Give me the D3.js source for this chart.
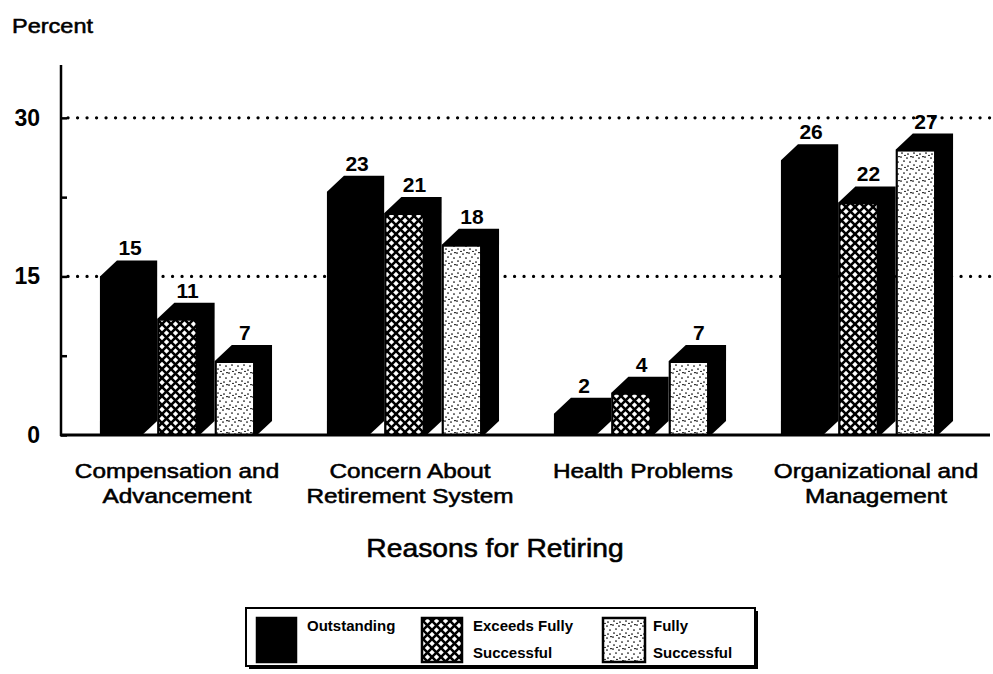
<!DOCTYPE html>
<html>
<head>
<meta charset="utf-8">
<script src="https://cdn.jsdelivr.net/npm/d3@7"></script>
<style>
  html, body { margin: 0; padding: 0; background: #fff; }
  svg { display: block; }
  text { font-family: "Liberation Sans", Arial, Helvetica, sans-serif; fill: #000; }
  .heavy { stroke: #000; stroke-width: 0.55px; }
</style>
</head>
<body>
<svg id="chart" width="993" height="674"></svg>
<script>
// ---- data ----
const categories = ["Compensation and\nAdvancement", "Concern About\nRetirement System", "Health Problems", "Organizational and\nManagement"];
const seriesNames = ["Outstanding", "Exceeds Fully Successful", "Fully Successful"];
const outstanding = [15, 23, 2, 26];
const exceedsFully = [11, 21, 4, 22];
const fullySuccessful = [7, 18, 7, 27];
const tickValues = [0, 7.5, 15, 22.5, 30];
const tickLabels = [0, 15, 30];
const gridValues = [15, 30];
const yLabel = "Percent";
const xTitle = "Reasons for Retiring";
const legendLines = [["Outstanding"], ["Exceeds Fully", "Successful"], ["Fully", "Successful"]];

const seriesValues = [outstanding, exceedsFully, fullySuccessful];

const svg = d3.select("#chart");
const defs = svg.append("defs");

// patterns
const hatch = defs.append("pattern").attr("id", "hatch")
  .attr("patternUnits", "userSpaceOnUse").attr("width", 9).attr("height", 9);
hatch.append("rect").attr("width", 9).attr("height", 9).attr("fill", "#fff");
hatch.append("path").attr("d", "M-2,-2 L11,11 M-2,11 L11,-2")
  .attr("stroke", "#000").attr("stroke-width", 2.6).attr("fill", "none");

const stip = defs.append("pattern").attr("id", "stipple")
  .attr("patternUnits", "userSpaceOnUse").attr("width", 12).attr("height", 12);
stip.append("rect").attr("width", 12).attr("height", 12).attr("fill", "#fff");
[[1,1],[7,2],[4,5],[10,6],[2,9],[8,10],[5,11.5],[11,0.5]].forEach(p => {
  stip.append("circle").attr("cx", p[0]).attr("cy", p[1]).attr("r", 0.85).attr("fill", "#000");
});

const fills = ["#000", "url(#hatch)", "url(#stipple)"];

// scales
const y = d3.scaleLinear().domain([0, 35]).range([435, 65]);
const xg = d3.scaleBand().domain(categories).range([72.5, 980.5])
  .paddingInner(0.242).paddingOuter(0.121);
const dx = 17, dy = 16;
const xs = d3.scaleBand().domain(seriesNames).range([0, xg.bandwidth() - dx])
  .paddingInner(0.3).paddingOuter(0);

// gridlines
svg.append("g").selectAll("line").data(gridValues).join("line")
  .attr("x1", 68).attr("x2", 990)
  .attr("y1", d => y(d)).attr("y2", d => y(d))
  .attr("stroke", "#000").attr("stroke-width", 3.2)
  .attr("stroke-linecap", "round").attr("stroke-dasharray", "0.1 9.4");

// bars
const barData = [];
categories.forEach((c, ci) => {
  seriesNames.forEach((s, si) => {
    barData.push({ cat: c, ser: s, si, v: seriesValues[si][ci] });
  });
});

const bars = svg.append("g").selectAll("g").data(barData).join("g");
bars.each(function (d) {
  const g = d3.select(this);
  const x0 = xg(d.cat) + xs(d.ser);
  const w = xs.bandwidth();
  const yt = y(d.v), yb = y(0);
  g.append("path")
    .attr("d", `M${x0},${yt} L${x0 + dx},${yt - dy} L${x0 + w + dx},${yt - dy} L${x0 + w + dx},${yb - dy + 2} L${x0 + w + 2},${yb} L${x0},${yb} Z`)
    .attr("fill", "#000");
  g.append("rect")
    .attr("x", x0 + 1).attr("y", yt + 1)
    .attr("width", w - 2).attr("height", yb - yt - 1)
    .attr("fill", fills[d.si]).attr("stroke", "#000").attr("stroke-width", 2);
  g.append("text")
    .attr("x", x0 + w / 2 + 10).attr("y", yt - dy - 5)
    .attr("text-anchor", "middle")
    .attr("font-size", 21).attr("font-weight", "bold")
    .text(d.v);
});

// y axis
const axis = d3.axisLeft(y).tickValues(tickValues)
  .tickSize(-6).tickPadding(21)
  .tickFormat(d => tickLabels.includes(d) ? d : "");
const ag = svg.append("g").attr("transform", "translate(61,0)").call(axis);
ag.select(".domain").remove();
ag.selectAll(".tick line").attr("stroke", "#000").attr("stroke-width", 2.5);
ag.selectAll(".tick text").attr("font-size", 23).attr("font-weight", "bold")
  .attr("font-family", "Liberation Sans, Arial, sans-serif");
ag.append("line").attr("x1", 0).attr("x2", 0).attr("y1", y(35)).attr("y2", y(0) + 1)
  .attr("stroke", "#000").attr("stroke-width", 2.5);

// baseline
svg.append("line").attr("x1", 60).attr("x2", 990).attr("y1", y(0)).attr("y2", y(0))
  .attr("stroke", "#000").attr("stroke-width", 3);

// y label
svg.append("text").attr("class", "heavy").attr("transform", "translate(12,33) scale(1.12,1)")
  .attr("font-size", 21).text(yLabel);

// category labels
const catG = svg.append("g").selectAll("g").data(categories).join("g");
catG.each(function (c, i) {
  const lines = c.split("\n");
  const cx = xg(c) + xg.bandwidth() / 2 - 9 + i * 6;
  lines.forEach((ln, k) => {
    d3.select(this).append("text").attr("class", "heavy")
      .attr("transform", `translate(${cx},${478 + k * 25}) scale(1.16,1)`)
      .attr("text-anchor", "middle").attr("font-size", 21).text(ln);
  });
});

// x title
svg.append("text").attr("class", "heavy").attr("transform", "translate(495,557) scale(1.13,1)")
  .attr("text-anchor", "middle").attr("font-size", 25).text(xTitle);

// legend
const lg = svg.append("g");
lg.append("rect").attr("x", 249).attr("y", 611).attr("width", 509).attr("height", 58).attr("fill", "#000");
lg.append("rect").attr("x", 246).attr("y", 608).attr("width", 509).attr("height", 58)
  .attr("fill", "#fff").attr("stroke", "#000").attr("stroke-width", 2);
const swX = [257, 422, 603];
const swW = [39, 40, 42];
const txX = [307, 473, 653];
seriesNames.forEach((s, i) => {
  lg.append("rect").attr("x", swX[i]).attr("y", 618).attr("width", swW[i]).attr("height", 44)
    .attr("fill", fills[i]).attr("stroke", "#000").attr("stroke-width", 2.5);
  legendLines[i].forEach((ln, j) => {
    lg.append("text").attr("x", txX[i]).attr("y", 631 + j * 27)
      .attr("font-size", 15).attr("font-weight", "bold").text(ln);
  });
});
</script>
</body>
</html>
